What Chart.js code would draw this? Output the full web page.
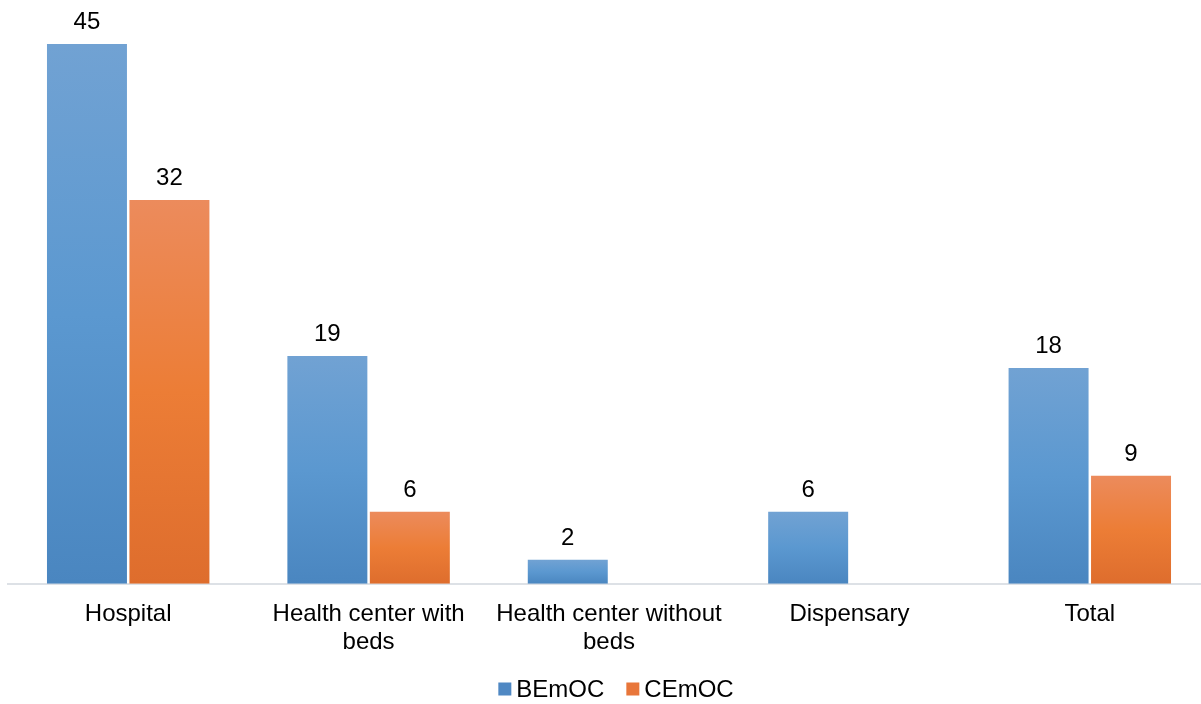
<!DOCTYPE html>
<html>
<head>
<meta charset="utf-8">
<script src="https://cdn.jsdelivr.net/npm/chart.js@4.4.1/dist/chart.umd.min.js"></script>
<style>
    html, body { margin: 0; padding: 0; background: #fff; overflow: hidden; }
    #wrap { width: 1218px; height: 704px; }
</style>
</head>
<body>
<div id="wrap"><canvas id="emocChart"></canvas></div>
<script>
// Categorias e valores (%)
const categories = [
    'Hospital',
    ['Health center with', 'beds'],
    ['Health center without', 'beds'],
    'Dispensary',
    'Total'
];
const bemocValues = [45, 19, 2, 6, 18];
const cemocValues = [32, 6, null, null, 9];

const FONT = '"Liberation Sans", Arial, sans-serif';

// Degradê vertical em cada barra (claro em cima, escuro embaixo)
function barGradient(stops, solid) {
    return function (ctx) {
        const chart = ctx.chart;
        if (!chart.chartArea || ctx.type !== 'data' || ctx.raw == null) {
            return solid;
        }
        const y = chart.scales.y;
        const top = y.getPixelForValue(ctx.raw);
        const bottom = y.getPixelForValue(0);
        const g = chart.ctx.createLinearGradient(0, top, 0, bottom);
        g.addColorStop(0, stops[0]);
        g.addColorStop(0.5, stops[1]);
        g.addColorStop(1, stops[2]);
        return g;
    };
}

// Rótulos de valor acima das barras
const valueLabels = {
    id: 'valueLabels',
    afterDatasetsDraw(chart) {
        const c = chart.ctx;
        c.save();
        c.font = '24px ' + FONT;
        c.fillStyle = '#000';
        c.textAlign = 'center';
        c.textBaseline = 'alphabetic';
        chart.data.datasets.forEach((ds, i) => {
            chart.getDatasetMeta(i).data.forEach((bar, j) => {
                const v = ds.data[j];
                if (v == null) return;
                c.fillText(String(v), bar.x, bar.y - 15);
            });
        });
        c.restore();
    }
};

// Legenda desenhada à mão (quadrado pequeno + texto, centralizada)
const bottomLegend = {
    id: 'bottomLegend',
    afterDraw(chart) {
        const c = chart.ctx;
        const box = 13, gapText = 5, gapItem = 22, cy = 689, center = 616;
        c.save();
        c.font = '24px ' + FONT;
        c.textBaseline = 'middle';
        c.textAlign = 'left';
        const items = chart.data.datasets.map(ds => ({
            text: ds.label,
            color: ds.legendColor,
            w: c.measureText(ds.label).width
        }));
        let total = 0;
        items.forEach((it, i) => {
            total += box + gapText + it.w + (i < items.length - 1 ? gapItem : 0);
        });
        let x = center - total / 2;
        items.forEach(it => {
            c.fillStyle = it.color;
            c.fillRect(x, cy - box / 2, box, box);
            x += box + gapText;
            c.fillStyle = '#000';
            c.fillText(it.text, x, cy + 1);
            x += it.w + gapItem;
        });
        c.restore();
    }
};

new Chart(document.getElementById('emocChart'), {
    type: 'bar',
    data: {
        labels: categories,
        datasets: [
            {
                label: 'BEmOC',
                data: bemocValues,
                backgroundColor: barGradient(['#71a2d3', '#5b98d0', '#4a86c0'], '#4f88c3'),
                legendColor: '#4f88c3',
                borderWidth: 0,
                barPercentage: 0.97,
                categoryPercentage: 0.686
            },
            {
                label: 'CEmOC',
                data: cemocValues,
                backgroundColor: barGradient(['#ec8b5c', '#ec7d36', '#de6d2d'], '#e8763a'),
                legendColor: '#e8763a',
                borderWidth: 0,
                barPercentage: 0.97,
                categoryPercentage: 0.686
            }
        ]
    },
    options: {
        responsive: true,
        maintainAspectRatio: false,
        animation: false,
        layout: {
            padding: { top: 8, left: 8, right: 8, bottom: 32 }
        },
        scales: {
            x: {
                grid: { display: false, drawTicks: false },
                border: { display: true, color: '#dde1e6', width: 2 },
                ticks: {
                    color: '#000',
                    padding: 16,
                    maxRotation: 0,
                    autoSkip: false,
                    font: { family: FONT, size: 24, lineHeight: 1.17 }
                }
            },
            y: {
                display: false,
                min: 0,
                max: 48
            }
        },
        plugins: {
            legend: { display: false },
            tooltip: { enabled: false }
        }
    },
    plugins: [valueLabels, bottomLegend]
});
</script>
</body>
</html>
